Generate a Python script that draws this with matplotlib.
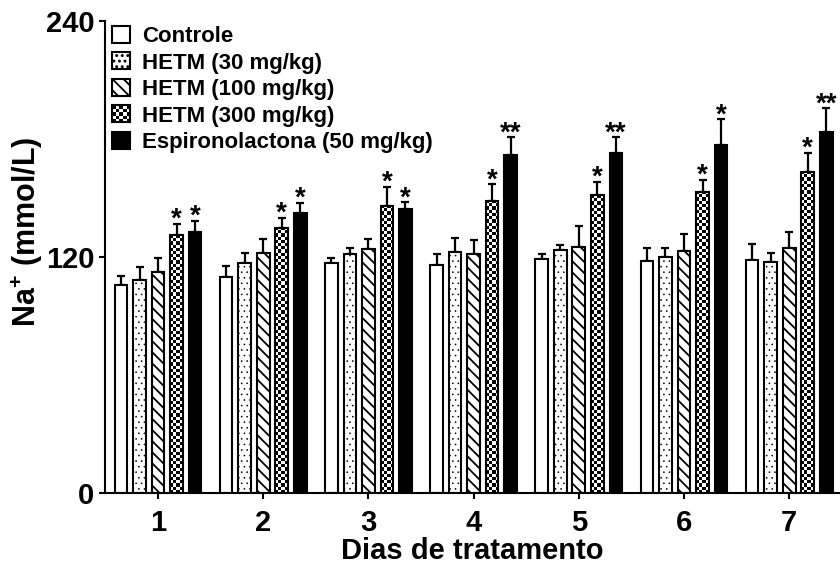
import numpy as np
import matplotlib
matplotlib.use('Agg')
import matplotlib.pyplot as plt
from matplotlib.patches import Patch, Rectangle
from matplotlib.legend_handler import HandlerBase

plt.rcParams['font.family'] = ['Liberation Sans', 'DejaVu Sans']
plt.rcParams['font.weight'] = 'bold'
plt.rcParams['mathtext.fontset'] = 'custom'
plt.rcParams['mathtext.rm'] = 'Liberation Sans:bold'
plt.rcParams['mathtext.bf'] = 'Liberation Sans:bold'
plt.rcParams['mathtext.default'] = 'bf'
plt.rcParams['hatch.linewidth'] = 1.3

# data
days = [1, 2, 3, 4, 5, 6, 7]
series = ['Controle', 'HETM (30 mg/kg)', 'HETM (100 mg/kg)',
          'HETM (300 mg/kg)', 'Espironolactona (50 mg/kg)']
controle = [105.7, 110.0, 116.8, 115.9, 119.0, 118.0, 118.5]
hetm30 = [108.3, 116.8, 121.3, 122.7, 123.5, 120.1, 117.6]
hetm100 = [112.5, 121.9, 123.9, 121.5, 125.2, 123.2, 124.4]
hetm300 = [131.2, 134.9, 146.1, 148.5, 151.5, 153.2, 163.4]
espiro = [132.5, 142.2, 144.6, 171.8, 173.0, 176.9, 183.7]
sem_controle = [4.6, 5.4, 2.5, 5.6, 2.5, 6.7, 8.1]
sem_hetm30 = [6.7, 5.2, 3.4, 6.8, 2.6, 4.6, 4.3]
sem_hetm100 = [7.1, 7.1, 5.2, 7.1, 10.7, 8.5, 8.3]
sem_hetm300 = [5.8, 5.1, 9.6, 8.4, 6.6, 5.8, 9.6]
sem_espiro = [5.9, 5.4, 3.2, 9.0, 7.8, 13.1, 11.9]
stars_hetm300 = ['*', '*', '*', '*', '*', '*', '*']
stars_espiro = ['*', '*', '*', '**', '**', '*', '**']

values = [controle, hetm30, hetm100, hetm300, espiro]
sems = [sem_controle, sem_hetm30, sem_hetm100, sem_hetm300, sem_espiro]
hatches = [None, '...', '\\\\\\', None, None]
faces = ['white', 'white', 'white', 'white', 'black']


def thin_dots(patch):
    # dots should stay small, lines keep the global hatch width
    if hasattr(patch, 'set_hatch_linewidth'):
        patch.set_hatch_linewidth(0.4)


class CheckerHandler(HandlerBase):
    def create_artists(self, legend, orig_handle, xdescent, ydescent,
                       width, height, fontsize, trans):
        arts = [Rectangle((-xdescent, -ydescent), width, height,
                          facecolor='white', edgecolor='none', transform=trans)]
        n = 5
        sw, sh = width / n, height / n
        for i in range(n):
            for j in range(n):
                if (i + j) % 2 == 0:
                    arts.append(Rectangle((-xdescent + i * sw, -ydescent + j * sh),
                                          sw, sh, facecolor='black',
                                          edgecolor='none', transform=trans))
        arts.append(Rectangle((-xdescent, -ydescent), width, height,
                              facecolor='none', edgecolor='black', lw=1.5,
                              transform=trans))
        return arts


fig = plt.figure(figsize=(8.4, 5.69), dpi=100)
ax = fig.add_axes([0.125, 0.1336, 0.875, 0.8294])

x = np.array(days, dtype=float)
step = 0.176
width = 0.12
checker_bars = []
for k in range(5):
    xs = x + (k - 2) * step
    bars = ax.bar(xs, values[k], width, color=faces[k], edgecolor='black',
                  linewidth=1.5, hatch=hatches[k], zorder=2)
    if k == 1:
        for b in bars:
            thin_dots(b)
    ax.errorbar(xs, values[k], yerr=[np.zeros(len(days)), sems[k]], fmt='none',
                ecolor='black', elinewidth=1.6, capsize=3, capthick=1.6, zorder=1)
    if k == 3:
        checker_bars = list(zip(xs, values[k], bars))

# checkerboard fill for HETM 300
for xc, h, b in checker_bars:
    nrows = int(round(h * 1.967 / 3.2))
    pat = np.indices((nrows, 4)).sum(axis=0) % 2
    im = ax.imshow(pat, cmap='gray', interpolation='nearest', aspect='auto',
                   extent=[xc - width / 2, xc + width / 2, 0, h], zorder=2.5)
    im.set_clip_path(b)
    b.set_facecolor('none')
    b.set_zorder(3)

for k, st in [(3, stars_hetm300), (4, stars_espiro)]:
    for i in range(len(days)):
        ax.annotate(st[i], (x[i] + (k - 2) * step, values[k][i] + sems[k][i]),
                    xytext=(0, -2), textcoords='offset points', ha='center',
                    va='baseline', fontsize=20, fontweight='bold')

ax.set_xlim(0.496, 7.483)
ax.set_ylim(0, 240)
ax.set_yticks([0, 120, 240])
ax.set_xticks(days)
ax.spines['top'].set_visible(False)
ax.spines['right'].set_visible(False)
ax.spines['left'].set_linewidth(1.5)
ax.spines['bottom'].set_linewidth(1.5)
ax.tick_params(width=1.5, length=4.5, labelsize=21)
ax.tick_params(axis='x', pad=7)
ax.tick_params(axis='y', pad=3)
ax.set_xlabel('Dias de tratamento', fontsize=21, fontweight='bold', labelpad=0)
ax.set_ylabel('Na$^{+}$ (mmol/L)', fontsize=22, fontweight='bold')
ax.yaxis.set_label_coords(-0.082, 0.553)

handles = [Patch(facecolor=faces[k], edgecolor='black', linewidth=1.5,
                 hatch=hatches[k]) for k in range(5)]
thin_dots(handles[1])
ax.legend(handles, series, loc='upper left', bbox_to_anchor=(0.01, 0.99),
          frameon=False, fontsize=16, handlelength=0.8, handleheight=0.8,
          handletextpad=0.55, labelspacing=0.24, borderpad=0, borderaxespad=0,
          handler_map={handles[3]: CheckerHandler()})

fig.savefig('out.png', dpi=100)
